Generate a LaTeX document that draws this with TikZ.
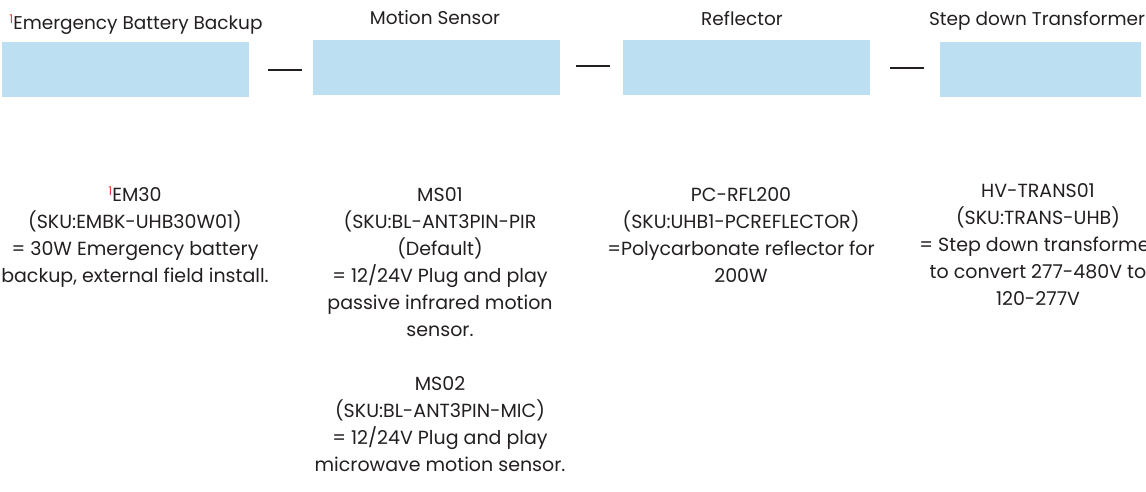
\documentclass[tikz,border=0pt]{standalone}
\usepackage{fontspec}
\setmainfont{Poppins}
\usetikzlibrary{positioning}
\definecolor{PartBlue}{HTML}{BDDFF2}
\definecolor{PartInk}{HTML}{231F20}
\definecolor{PartRed}{HTML}{E8383D}
\newcommand{\fnmark}{{\color{PartRed}\fontsize{12}{12}\selectfont\raisebox{6pt}{1}}}

\tikzset{
  partbox/.style={rectangle,fill=PartBlue,minimum width=247pt,minimum height=55pt,inner sep=0pt},
  parttitle/.style={anchor=base,font=\fontsize{18.5}{22}\selectfont,text=PartInk,inner sep=0pt},
  partdesc/.style={anchor=north,align=center,font=\fontsize{19}{27}\selectfont,text=PartInk,inner sep=0pt},
  partlink/.style={draw=PartInk,line width=2pt},
}

\begin{document}
\begin{tikzpicture}[x=1pt,y=-1pt]
  \useasboundingbox (0,0) rectangle (1146,491);
  \clip (0,0) rectangle (1146,491);

  % accessory boxes
  \node[partbox] (battery) at (125.5,69.5) {};
  \node[partbox] (sensor) at (436.5,67.5) {};
  \node[partbox] (reflector) at (746.5,67.5) {};
  \node[partbox,minimum width=201pt] (transformer) at (1040.5,69.5) {};

  % titles
  \node[parttitle] (batterytitle) at (136,29) {\fnmark Emergency Battery Backup};
  \node[parttitle] (sensortitle) at (435,24) {Motion Sensor};
  \node[parttitle] (reflectortitle) at (742,25) {Reflector};
  \node[parttitle] (transformertitle) at (1037,25) {Step down Transformer};

  % dashes between boxes
  \draw[partlink] (battery.east) ++(19,0) -- ++(34,0);
  \draw[partlink] (sensor.east) ++(16,-1.5) -- ++(34,0);
  \draw[partlink] (reflector.east) ++(20,0.5) -- ++(34,0);

  % descriptions
  \node[partdesc] (batterytext) at (135,187) {%
    \fnmark EM30\\(SKU:EMBK-UHB30W01)\\= 30W Emergency battery\\backup, external field install.};
  \node[partdesc] (sensortext) at (440,187) {%
    MS01\\(SKU:BL-ANT3PIN-PIR\\(Default)\\= 12/24V Plug and play\\passive infrared motion\\sensor.\\[27pt]
    MS02\\(SKU:BL-ANT3PIN-MIC)\\= 12/24V Plug and play\\microwave motion sensor.};
  \node[partdesc] (reflectortext) at (741,187) {%
    PC-RFL200\\(SKU:UHB1-PCREFLECTOR)\\=Polycarbonate reflector for\\200W};
  \node[partdesc] (transformertext) at (1038,183) {%
    HV-TRANS01\\(SKU:TRANS-UHB)\\= Step down transformer\\to convert 277-480V to\\120-277V};
\end{tikzpicture}
\end{document}
